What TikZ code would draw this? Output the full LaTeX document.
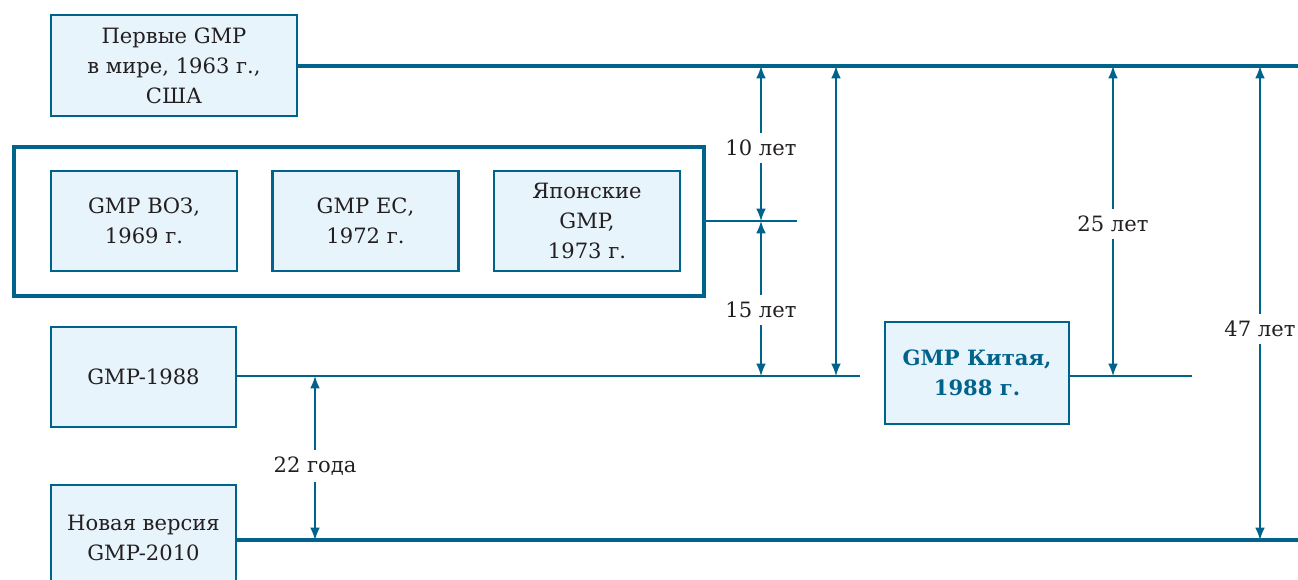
\documentclass[tikz,border=0pt]{standalone}
\usepackage{fontspec}
\setmainfont{DejaVu Serif}
\usepackage{tikz}
\usetikzlibrary{arrows.meta}
\definecolor{GmpBlue}{RGB}{0,99,140}
\definecolor{GmpFill}{RGB}{232,244,252}
\definecolor{GmpText}{RGB}{35,31,32}
\newlength\pxunit
\setlength\pxunit{0.02cm}

\begin{document}
\begin{tikzpicture}[x=1\pxunit,y=-1\pxunit,
  box/.style n args={2}{draw=GmpBlue,fill=GmpFill,line width=1.4pt,
    minimum width=#1\pxunit,minimum height=#2\pxunit,inner sep=0pt,
    align=center,text=GmpText,font=\fontsize{12}{17}\selectfont},
  era/.style={draw=GmpBlue,line width=2.4pt},
  tie/.style={draw=GmpBlue,line width=1.1pt},
  span/.style={draw=GmpBlue,line width=0.85pt,{Latex[length=7pt,width=5.5pt]}-{Latex[length=7pt,width=5.5pt]}},
  years/.style={fill=white,text=GmpText,inner xsep=1pt,inner ysep=4pt,font=\fontsize{12}{14}\selectfont}]
\useasboundingbox (0,0) rectangle (1298,579);
\node[box={246}{101}](b1963) at(174,65.5) {Первые GMP\\в мире, 1963 г.,\\США};
\node[draw=GmpBlue,line width=2.8pt,minimum width=690\pxunit,minimum height=149\pxunit](group) at(359,221.5) {};
\node[box={186}{100}](who) at(144,221) {GMP ВОЗ,\\1969 г.};
\node[box={186}{100}](eu) at(365.5,221) {GMP ЕС,\\1972 г.};
\node[box={186}{100}](jp) at(587,221) {Японские\\GMP,\\1973 г.};
\node[box={185}{100}](b1988) at(143.5,377) {GMP-1988};
\node[box={184}{102},text=GmpBlue,font=\fontsize{12}{17}\selectfont\bfseries](cn) at(977,373) {GMP Китая,\\1988 г.};
\node[box={185}{106}](b2010) at(143.5,538) {Новая версия\\GMP-2010};
% time lines
\coordinate (e1963) at(1298,66);
\coordinate (egroup) at(797,221);
\coordinate (e1988) at(860,376);
\coordinate (ecn) at(1192,376);
\coordinate (e2010) at(1298,540);
\draw[era] (b1963.east|-e1963) -- (e1963);
\draw[tie] (group.east|-egroup) -- (egroup);
\draw[tie] (b1988.east|-e1988) -- (e1988);
\draw[tie] (cn.east|-ecn) -- (ecn);
\draw[era] (b2010.east|-e2010) -- (e2010);
% spans
\foreach \x/\ya/\yb/\ly/\1 in %
{761/66/221/148/10 лет,761/221/376/310/15 лет,1113/66/376/224/25 лет,1260/66/540/329/47 лет,315/376/540/466/22 года} {
   \coordinate (s\x\ya) at(\x,\ya);
   \coordinate (f\x\ya) at(\x,\yb);
   \draw[span] (s\x\ya) -- (f\x\ya);
   \node[years](l\x\ya) at(\x,\ly) {\1};
}
\coordinate (s836) at(836,66);
\coordinate (f836) at(836,376);
\draw[span] (s836) -- (f836);
\end{tikzpicture}
\end{document}
